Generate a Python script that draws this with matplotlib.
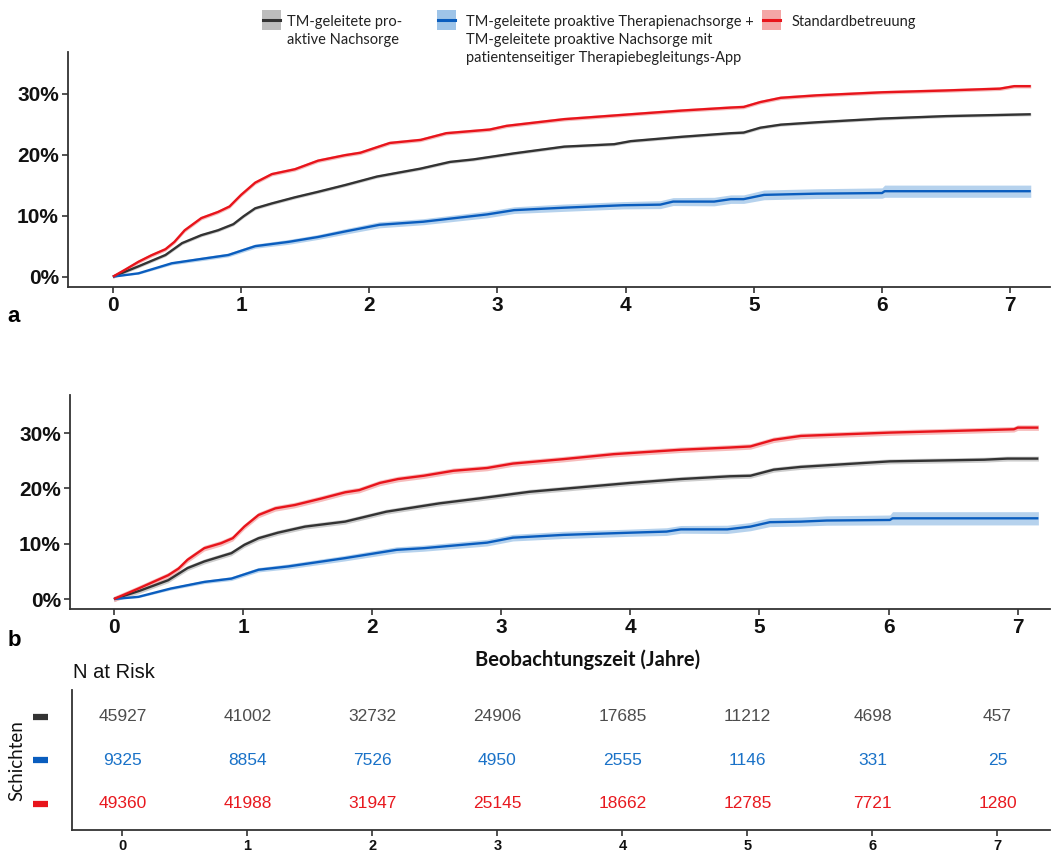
import numpy as np
import matplotlib
matplotlib.use("Agg")
import matplotlib.pyplot as plt
from matplotlib.transforms import blended_transform_factory
from matplotlib.patches import Rectangle
from matplotlib.lines import Line2D

# ---------------- data ----------------
years = [0, 1, 2, 3, 4, 5, 6, 7]
pct_ticks = [0, 10, 20, 30]
pct_labels = ["0%", "10%", "20%", "30%"]

legend_lines = [
    ["TM-geleitete pro-", "aktive Nachsorge"],
    ["TM-geleitete proaktive Therapienachsorge +", "TM-geleitete proaktive Nachsorge mit",
     "patientenseitiger Therapiebegleitungs-App"],
    ["Standardbetreuung"],
]

# Panel a
a_red_t = [0, 0.1, 0.2, 0.3, 0.41, 0.48, 0.56, 0.69, 0.82, 0.91, 1.0, 1.11, 1.24, 1.42, 1.6,
           1.81, 1.93, 2.16, 2.4, 2.6, 2.94, 3.07, 3.52, 4.04, 4.43, 4.82, 4.92, 5.05, 5.21,
           5.49, 6.0, 6.5, 6.92, 7.03, 7.16]
a_red_v = [0, 1.2, 2.45, 3.5, 4.5, 5.7, 7.6, 9.6, 10.6, 11.5, 13.4, 15.4, 16.8, 17.6, 19.0,
           19.9, 20.3, 21.9, 22.4, 23.5, 24.1, 24.7, 25.8, 26.6, 27.2, 27.7, 27.8, 28.6, 29.3,
           29.7, 30.2, 30.5, 30.8, 31.2, 31.2]
a_gray_t = [0, 0.2, 0.41, 0.54, 0.69, 0.82, 0.94, 1.02, 1.11, 1.24, 1.42, 1.6, 1.81, 2.06,
            2.4, 2.63, 2.81, 3.13, 3.52, 3.91, 4.04, 4.43, 4.82, 4.92, 5.05, 5.21, 5.5, 6.0,
            6.5, 7.16]
a_gray_v = [0, 1.7, 3.55, 5.5, 6.8, 7.6, 8.6, 9.9, 11.2, 12.0, 13.0, 13.9, 15.0, 16.4,
            17.7, 18.8, 19.2, 20.2, 21.3, 21.7, 22.2, 22.9, 23.5, 23.6, 24.4, 24.9, 25.3, 25.9,
            26.3, 26.6]
a_blue_t = [0, 0.2, 0.46, 0.72, 0.9, 1.11, 1.37, 1.6, 1.81, 2.08, 2.42, 2.92, 3.13, 3.52,
            3.98, 4.27, 4.37, 4.69, 4.82, 4.92, 5.08, 5.49, 6.0, 6.02, 7.16]
a_blue_v = [0, 0.55, 2.2, 3.0, 3.55, 5.0, 5.7, 6.5, 7.4, 8.5, 9.0, 10.2, 10.9, 11.3,
            11.7, 11.8, 12.3, 12.3, 12.7, 12.7, 13.4, 13.6, 13.7, 14.0, 14.0]
a_blue_ci = [0, 0.15, 0.25, 0.3, 0.3, 0.35, 0.4, 0.4, 0.45, 0.5, 0.5, 0.55, 0.55, 0.6,
             0.6, 0.65, 0.65, 0.7, 0.7, 0.7, 0.8, 0.8, 0.85, 1.0, 1.0]
a_red_ci = 0.3
a_gray_ci = 0.25

# Panel b
b_red_t = [0, 0.19, 0.42, 0.5, 0.57, 0.70, 0.83, 0.92, 1.01, 1.12, 1.25, 1.40, 1.61, 1.79,
           1.9, 2.06, 2.2, 2.4, 2.63, 2.89, 3.09, 3.48, 3.87, 4.39, 4.77, 4.93, 5.11, 5.32,
           6.01, 6.97, 7.0, 7.16]
b_red_v = [0, 1.9, 4.3, 5.5, 7.1, 9.2, 10.1, 11.0, 13.1, 15.2, 16.4, 17.0, 18.2, 19.3,
           19.7, 21.0, 21.7, 22.3, 23.2, 23.7, 24.5, 25.3, 26.2, 27.0, 27.4, 27.6, 28.8, 29.5,
           30.1, 30.7, 31.0, 31.0]
b_gray_t = [0, 0.2, 0.42, 0.57, 0.70, 0.91, 1.01, 1.12, 1.27, 1.48, 1.79, 2.11, 2.52, 2.83,
            3.22, 3.61, 4.0, 4.39, 4.77, 4.93, 5.11, 5.32, 6.01, 6.74, 6.92, 7.16]
b_gray_v = [0, 1.5, 3.4, 5.6, 6.8, 8.3, 9.8, 11.0, 12.0, 13.1, 14.0, 15.8, 17.3, 18.2,
            19.4, 20.2, 21.0, 21.7, 22.2, 22.3, 23.4, 23.9, 24.9, 25.2, 25.4, 25.4]
b_blue_t = [0, 0.19, 0.44, 0.70, 0.91, 1.12, 1.35, 1.79, 2.19, 2.4, 2.89, 3.09, 3.48, 4.0,
            4.28, 4.39, 4.75, 4.93, 5.08, 5.32, 5.52, 6.01, 6.03, 7.16]
b_blue_v = [0, 0.4, 1.9, 3.1, 3.7, 5.3, 5.9, 7.4, 8.9, 9.2, 10.2, 11.1, 11.6, 12.0,
            12.2, 12.6, 12.6, 13.1, 13.9, 14.0, 14.2, 14.3, 14.6, 14.6]
b_blue_ci = [0, 0.15, 0.25, 0.3, 0.35, 0.4, 0.45, 0.5, 0.55, 0.55, 0.6, 0.6, 0.65, 0.65,
             0.7, 0.7, 0.75, 0.75, 0.8, 0.8, 0.85, 0.9, 1.2, 1.2]
b_red_ci = 0.5
b_gray_ci = 0.45

# N at risk
risk_gray = [45927, 41002, 32732, 24906, 17685, 11212, 4698, 457]
risk_blue = [9325, 8854, 7526, 4950, 2555, 1146, 331, 25]
risk_red = [49360, 41988, 31947, 25145, 18662, 12785, 7721, 1280]

# ---------------- style ----------------
W, H = 1051, 851
C_GRAY = "#333333"
C_BLUE = "#0A5DBE"
C_RED = "#E8141B"
F_GRAY = "#BDBDBD"
F_BLUE = "#9EC4E8"
F_RED = "#F4A6A6"
T_GRAY = "#4D4D4D"
T_BLUE = "#1A72C8"
T_RED = "#E8191F"
TICKFONT = "Liberation Sans"
HUMAN = "Lato"


def fx(px):
    return px / W


def fy(py):
    return 1 - py / H


fig = plt.figure(figsize=(W / 100, H / 100), dpi=100)


def style_axes(ax, tick_size, bold=True):
    for s in ["top", "right"]:
        ax.spines[s].set_visible(False)
    for s in ["left", "bottom"]:
        ax.spines[s].set_color("#333333")
        ax.spines[s].set_linewidth(1.3)
    ax.tick_params(axis="both", colors="#333333", width=1.2, length=4.5, pad=2,
                   labelcolor="#111111")
    for lab in ax.get_xticklabels() + ax.get_yticklabels():
        lab.set_fontfamily(TICKFONT)
        lab.set_fontweight("bold" if bold else "normal")
        lab.set_fontsize(tick_size)


def draw_curves(ax, series):
    for t, v, ci, lc, fc in series:
        t = np.asarray(t, float)
        v = np.asarray(v, float)
        ci = np.broadcast_to(np.asarray(ci, float), v.shape)
        ax.fill_between(t, v - ci, v + ci, color=fc, alpha=0.75, linewidth=0)
        ax.plot(t, v, color=lc, lw=1.7, solid_capstyle="butt", solid_joinstyle="round")


# Panel a
axa = fig.add_axes([fx(68), fy(287), fx(1050) - fx(68), fy(52) - fy(287)])
draw_curves(axa, [
    (a_gray_t, a_gray_v, a_gray_ci, C_GRAY, F_GRAY),
    (a_blue_t, a_blue_v, a_blue_ci, C_BLUE, F_BLUE),
    (a_red_t, a_red_v, a_red_ci, C_RED, F_RED),
])
axa.set_xlim(-0.35, 7.31)
axa.set_ylim(-1.69, 36.8)
axa.set_xticks(years)
axa.set_yticks(pct_ticks)
axa.set_yticklabels(pct_labels)
style_axes(axa, 15)

# Panel b
axb = fig.add_axes([fx(70), fy(609), fx(1050) - fx(70), fy(395) - fy(609)])
draw_curves(axb, [
    (b_gray_t, b_gray_v, b_gray_ci, C_GRAY, F_GRAY),
    (b_blue_t, b_blue_v, b_blue_ci, C_BLUE, F_BLUE),
    (b_red_t, b_red_v, b_red_ci, C_RED, F_RED),
])
axb.set_xlim(-0.34, 7.25)
axb.set_ylim(-1.8, 36.9)
axb.set_xticks(years)
axb.set_yticks(pct_ticks)
axb.set_yticklabels(pct_labels)
style_axes(axb, 15)

# Risk table
axt = fig.add_axes([fx(72), fy(830), fx(1050) - fx(72), fy(690) - fy(830)])
axt.set_xlim(-0.403, 7.42)
axt.set_ylim(0.4, 3.62)
axt.set_xticks(years)
axt.set_yticks([])
style_axes(axt, 10.5)
rows = [(3, risk_gray, T_GRAY, C_GRAY), (2, risk_blue, T_BLUE, C_BLUE), (1, risk_red, T_RED, C_RED)]
bt = blended_transform_factory(axt.transAxes, axt.transData)
for yv, vals, tc, lc in rows:
    for xv, n in zip(years, vals):
        axt.text(xv, yv, str(n), ha="center", va="center", color=tc,
                 fontsize=12.5, fontfamily=TICKFONT)
    axt.plot([-0.0399, -0.0245], [yv, yv], transform=bt, color=lc, lw=4.5,
             solid_capstyle="butt", clip_on=False)

# Texts
fig.text(fx(14), fy(317), "a", fontsize=16, fontweight="bold", fontfamily=TICKFONT,
         ha="center", va="center")
fig.text(fx(14), fy(641), "b", fontsize=16, fontweight="bold", fontfamily=TICKFONT,
         ha="center", va="center")
fig.text(fx(588), fy(660), "Beobachtungszeit (Jahre)", fontsize=14.5, fontweight="bold",
         fontfamily=HUMAN, ha="center", va="center", color="#111111")
fig.text(fx(73), fy(672), "N at Risk", fontsize=14.5, fontfamily=TICKFONT,
         ha="left", va="center", color="#111111")
fig.text(fx(17), fy(761), "Schichten", fontsize=13.5, fontfamily=HUMAN, rotation=90,
         ha="center", va="center", color="#111111")

# Legend (manual)
leg_items = [
    (262, 287, F_GRAY, C_GRAY),
    (437, 466, F_BLUE, C_BLUE),
    (762, 792, F_RED, C_RED),
]
baselines = [26, 44, 62]
for (bx, tx, fc, lc), lines in zip(leg_items, legend_lines):
    fig.patches.append(Rectangle((fx(bx), fy(30)), fx(19), fy(10) - fy(30),
                                 transform=fig.transFigure, facecolor=fc, edgecolor="none"))
    fig.lines.append(Line2D([fx(bx + 1), fx(bx + 18)], [fy(20), fy(20)],
                            transform=fig.transFigure, color=lc, lw=2.2))
    for line, bl in zip(lines, baselines):
        fig.text(fx(tx), fy(bl), line, fontsize=10.5, fontfamily=HUMAN,
                 ha="left", va="baseline", color="#222222")

fig.savefig("out.png", dpi=100)
